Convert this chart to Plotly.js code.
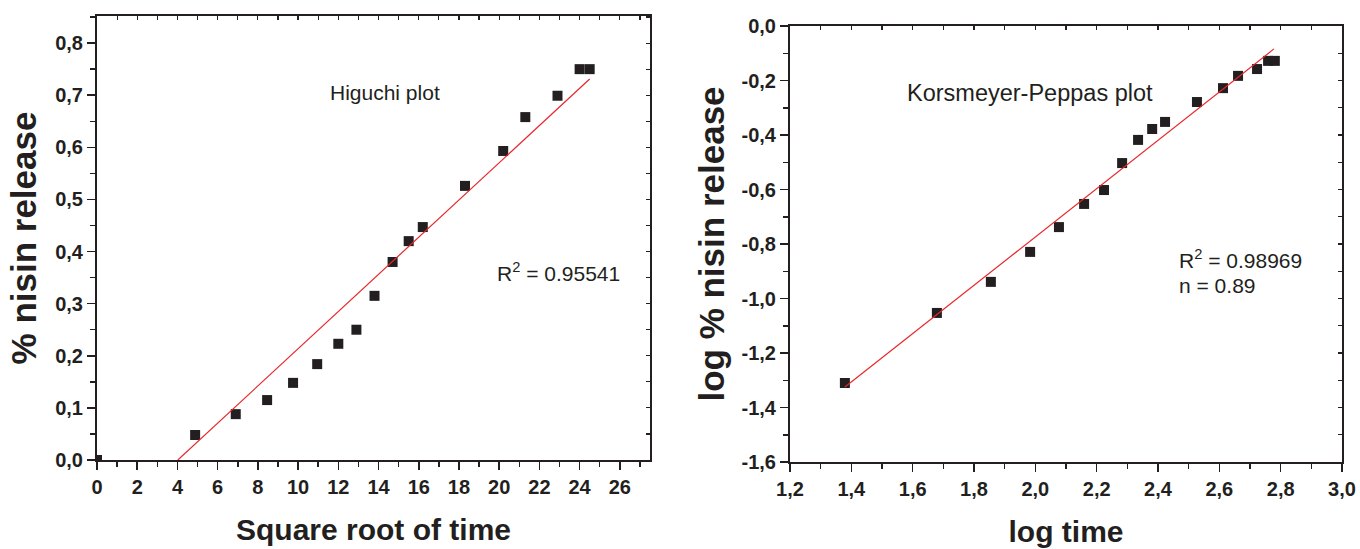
<!DOCTYPE html>
<html>
<head>
<meta charset="utf-8">
<script src="https://cdn.plot.ly/plotly-3.0.1.min.js"></script>
<style>html,body{margin:0;padding:0;background:#fff;}#chart{width:1360px;height:549px;}</style>
</head>
<body>
<div id="chart"></div>
<script>
// ---- Higuchi plot data ----
const higuchiX = [0, 4.88, 6.9, 8.46, 9.75, 10.95, 12.0, 12.9, 13.8, 14.7, 15.5, 16.2, 18.3, 20.2, 21.3, 22.9, 24.0, 24.5];
const higuchiY = [0, 0.048, 0.088, 0.115, 0.148, 0.184, 0.223, 0.250, 0.315, 0.380, 0.420, 0.447, 0.526, 0.593, 0.658, 0.699, 0.750, 0.750];
const higuchiFitX = [4.02, 24.5];
const higuchiFitY = [0, 0.731];

// ---- Korsmeyer-Peppas plot data ----
const kpX = [1.379, 1.679, 1.855, 1.983, 2.077, 2.159, 2.224, 2.283, 2.335, 2.381, 2.423, 2.527, 2.612, 2.661, 2.723, 2.759, 2.781];
const kpY = [-1.310, -1.053, -0.939, -0.829, -0.738, -0.653, -0.602, -0.503, -0.418, -0.378, -0.352, -0.279, -0.228, -0.183, -0.158, -0.128, -0.128];
const kpFitX = [1.379, 2.778];
const kpFitY = [-1.325, -0.084];

// ---- tick labels ----
const leftXTicks = [0, 2, 4, 6, 8, 10, 12, 14, 16, 18, 20, 22, 24, 26];
const leftXText = ["0", "2", "4", "6", "8", "10", "12", "14", "16", "18", "20", "22", "24", "26"];
const leftYTicks = [0, 0.1, 0.2, 0.3, 0.4, 0.5, 0.6, 0.7, 0.8];
const leftYText = ["0,0", "0,1", "0,2", "0,3", "0,4", "0,5", "0,6", "0,7", "0,8"];
const rightXTicks = [1.2, 1.4, 1.6, 1.8, 2.0, 2.2, 2.4, 2.6, 2.8, 3.0];
const rightXText = ["1,2", "1,4", "1,6", "1,8", "2,0", "2,2", "2,4", "2,6", "2,8", "3,0"];
const rightYTicks = [-1.6, -1.4, -1.2, -1.0, -0.8, -0.6, -0.4, -0.2, 0.0];
const rightYText = ["-1,6", "-1,4", "-1,2", "-1,0", "-0,8", "-0,6", "-0,4", "-0,2", "0,0"];

const INK = '#231f20';
const RED = '#e8262b';
const FAM = 'Liberation Sans, Arial, sans-serif';
const tickFont = {family: FAM, size: 20, color: INK, weight: 'bold'};
const titleFontX = {family: FAM, size: 30, color: INK, weight: 'bold'};
const titleFontY = {family: FAM, size: 35, color: INK, weight: 'bold'};
const annFont = {family: FAM, size: 21, color: INK};
const annFontBig = {family: FAM, size: 23.5, color: INK};

function mainAxis(extra) {
  return Object.assign({
    showline: true, linecolor: INK, linewidth: 2, mirror: true,
    ticks: 'outside', ticklen: 8, tickwidth: 1.5, tickcolor: INK,
    tickmode: 'array', tickfont: tickFont,
    showgrid: false, zeroline: false, fixedrange: true
  }, extra);
}
function mirrorAxis(extra) {
  return Object.assign({
    showline: false, ticks: 'inside', ticklen: 4, tickwidth: 1.2, tickcolor: INK,
    showticklabels: false, showgrid: false, zeroline: false, tickmode: 'linear', fixedrange: true
  }, extra);
}

const xDomL = [97/1360, 650/1360];
const yDomL = [89/549, 533/549];
const xDomR = [790/1360, 1342/1360];
const yDomR = [87/549, 523/549];

const traces = [
  {x: higuchiX, y: higuchiY, xaxis: 'x', yaxis: 'y', mode: 'markers', type: 'scatter',
   marker: {symbol: 'square', size: 10, color: INK}, cliponaxis: true, showlegend: false},
  {x: higuchiFitX, y: higuchiFitY, xaxis: 'x', yaxis: 'y', mode: 'lines', type: 'scatter',
   line: {color: RED, width: 1.2}, showlegend: false},
  {x: kpX, y: kpY, xaxis: 'x2', yaxis: 'y2', mode: 'markers', type: 'scatter',
   marker: {symbol: 'square', size: 10, color: INK}, showlegend: false},
  {x: kpFitX, y: kpFitY, xaxis: 'x2', yaxis: 'y2', mode: 'lines', type: 'scatter',
   line: {color: RED, width: 1.2}, showlegend: false},
  // helper empty traces to activate mirror-tick axes
  {x: [], y: [], xaxis: 'x3', yaxis: 'y3', type: 'scatter', mode: 'markers', showlegend: false, hoverinfo: 'skip'},
  {x: [], y: [], xaxis: 'x4', yaxis: 'y4', type: 'scatter', mode: 'markers', showlegend: false, hoverinfo: 'skip'}
];

const layout = {
  width: 1360, height: 549,
  margin: {l: 0, r: 0, t: 0, b: 0},
  paper_bgcolor: '#ffffff', plot_bgcolor: '#ffffff',
  showlegend: false,
  xaxis: mainAxis({domain: xDomL, anchor: 'y', range: [0, 27.5], tickvals: leftXTicks, ticktext: leftXText,
    minor: {tickmode: 'linear', tick0: 0, dtick: 1, ticks: 'outside', ticklen: 5, tickwidth: 1.5, tickcolor: INK},
    title: {text: 'Square root of time', font: titleFontX, standoff: 22}}),
  yaxis: mainAxis({domain: yDomL, anchor: 'x', range: [0, 0.852], tickvals: leftYTicks, ticktext: leftYText,
    minor: {tickmode: 'linear', tick0: 0, dtick: 0.05, ticks: 'outside', ticklen: 5, tickwidth: 1.5, tickcolor: INK},
    title: {text: '% nisin release', font: titleFontY, standoff: 8}}),
  xaxis2: mainAxis({domain: xDomR, anchor: 'y2', range: [1.2, 3.0], tickvals: rightXTicks, ticktext: rightXText,
    minor: {tickmode: 'linear', tick0: 1.2, dtick: 0.1, ticks: 'outside', ticklen: 5, tickwidth: 1.5, tickcolor: INK},
    title: {text: 'log time', font: titleFontX, standoff: 22}}),
  yaxis2: mainAxis({domain: yDomR, anchor: 'x2', range: [-1.6, 0], tickvals: rightYTicks, ticktext: rightYText,
    minor: {tickmode: 'linear', tick0: 0, dtick: 0.1, ticks: 'outside', ticklen: 5, tickwidth: 1.5, tickcolor: INK},
    title: {text: 'log % nisin release', font: titleFontY, standoff: 6}}),
  xaxis3: mirrorAxis({overlaying: 'x', side: 'top', anchor: 'y', range: [0, 27.5], tick0: 0, dtick: 1}),
  yaxis3: mirrorAxis({overlaying: 'y', side: 'right', anchor: 'x', range: [0, 0.852], tick0: 0, dtick: 0.05}),
  xaxis4: mirrorAxis({overlaying: 'x2', side: 'top', anchor: 'y2', range: [1.2, 3.0], tick0: 1.2, dtick: 0.1}),
  yaxis4: mirrorAxis({overlaying: 'y2', side: 'right', anchor: 'x2', range: [-1.6, 0], tick0: 0, dtick: 0.1}),
  annotations: [
    {text: 'Higuchi plot', xref: 'x', yref: 'y', x: 11.5, y: 0.706, xanchor: 'left', yanchor: 'middle', showarrow: false, font: annFont},
    {text: 'R<sup>2</sup> = 0.95541', xref: 'x', yref: 'y', x: 19.8, y: 0.361, xanchor: 'left', yanchor: 'middle', showarrow: false, font: annFont},
    {text: 'Korsmeyer-Peppas plot', xref: 'x2', yref: 'y2', x: 1.575, y: -0.246, xanchor: 'left', yanchor: 'middle', showarrow: false, font: annFontBig},
    {text: 'R<sup>2</sup> = 0.98969', xref: 'x2', yref: 'y2', x: 2.462, y: -0.855, xanchor: 'left', yanchor: 'middle', showarrow: false, font: annFont},
    {text: 'n = 0.89', xref: 'x2', yref: 'y2', x: 2.462, y: -0.954, xanchor: 'left', yanchor: 'middle', showarrow: false, font: annFont}
  ]
};

Plotly.newPlot('chart', traces, layout, {staticPlot: true, displayModeBar: false});
</script>
</body>
</html>
